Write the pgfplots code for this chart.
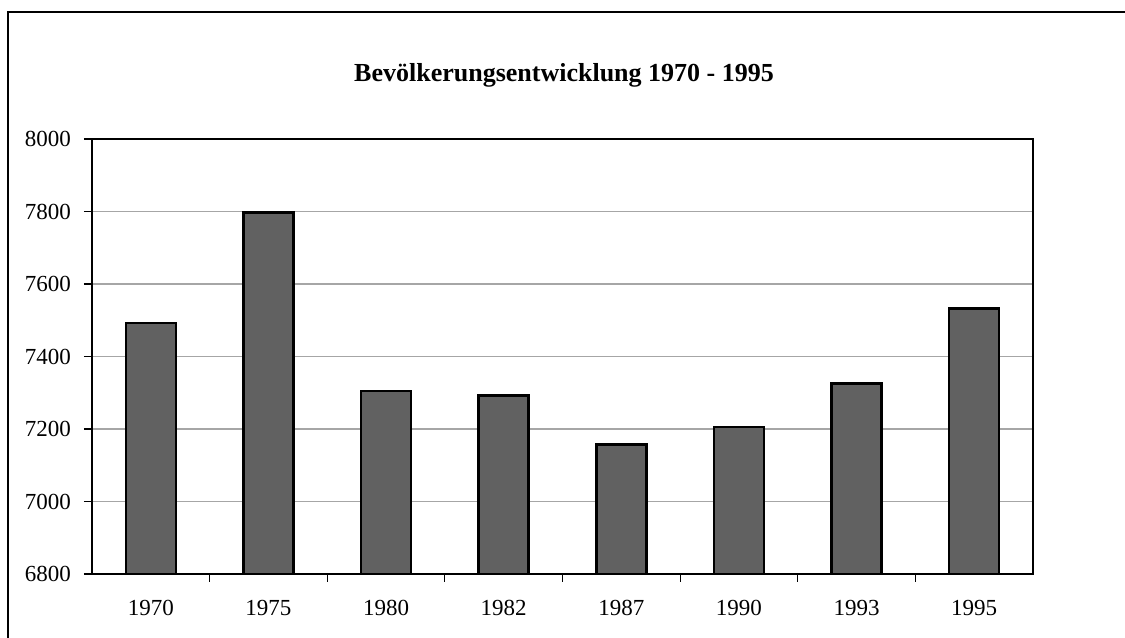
\documentclass[border=0pt]{standalone}
\usepackage{fontspec}
\setmainfont{Liberation Serif}
\usepackage{pgfplots}
\pgfplotsset{compat=1.18}
\begin{document}
\begin{tikzpicture}
\useasboundingbox (0,0) rectangle (562.5bp,319bp);
\draw[line width=1bp] (4bp,0) -- (4bp,313bp) -- (562.5bp,313bp);
\node[font=\fontsize{13bp}{15bp}\selectfont\bfseries] at (282bp,281.5bp) {Bevölkerungsentwicklung 1970 - 1995};
\begin{axis}[
  at={(46bp,32bp)}, anchor=south west,
  scale only axis, width=470.5bp, height=217.5bp,
  xmin=-0.5, xmax=7.5, ymin=6800, ymax=8000,
  ytick={6800,7000,...,8000},
  xtick={0.5,1.5,...,6.5},
  xticklabels={},
  xtick pos=bottom, ytick pos=left,
  extra x ticks={0,...,7},
  extra x tick labels={1970,1975,1980,1982,1987,1990,1993,1995},
  extra x tick style={major tick length=0pt, xticklabel style={yshift=-9.5bp}},
  tick style={draw=black, line width=0.6bp},
  tick align=outside, major tick length=4bp,
  ymajorgrids, grid style={gray!70, line width=0.6bp},
  axis line style={line width=0.8bp},
  tick label style={font=\fontsize{11.5bp}{13bp}\selectfont},
  yticklabel style={xshift=-3bp},
  /pgf/number format/set thousands separator={},
  /pgf/number format/assume math mode=true,
  ybar, bar width=25bp,
]
\addplot[fill=black!62, draw=black, line width=1.2bp] coordinates {
(0,7492) (1,7797) (2,7305) (3,7292) (4,7157) (5,7205) (6,7325) (7,7532)
};
\end{axis}
\end{tikzpicture}
\end{document}
